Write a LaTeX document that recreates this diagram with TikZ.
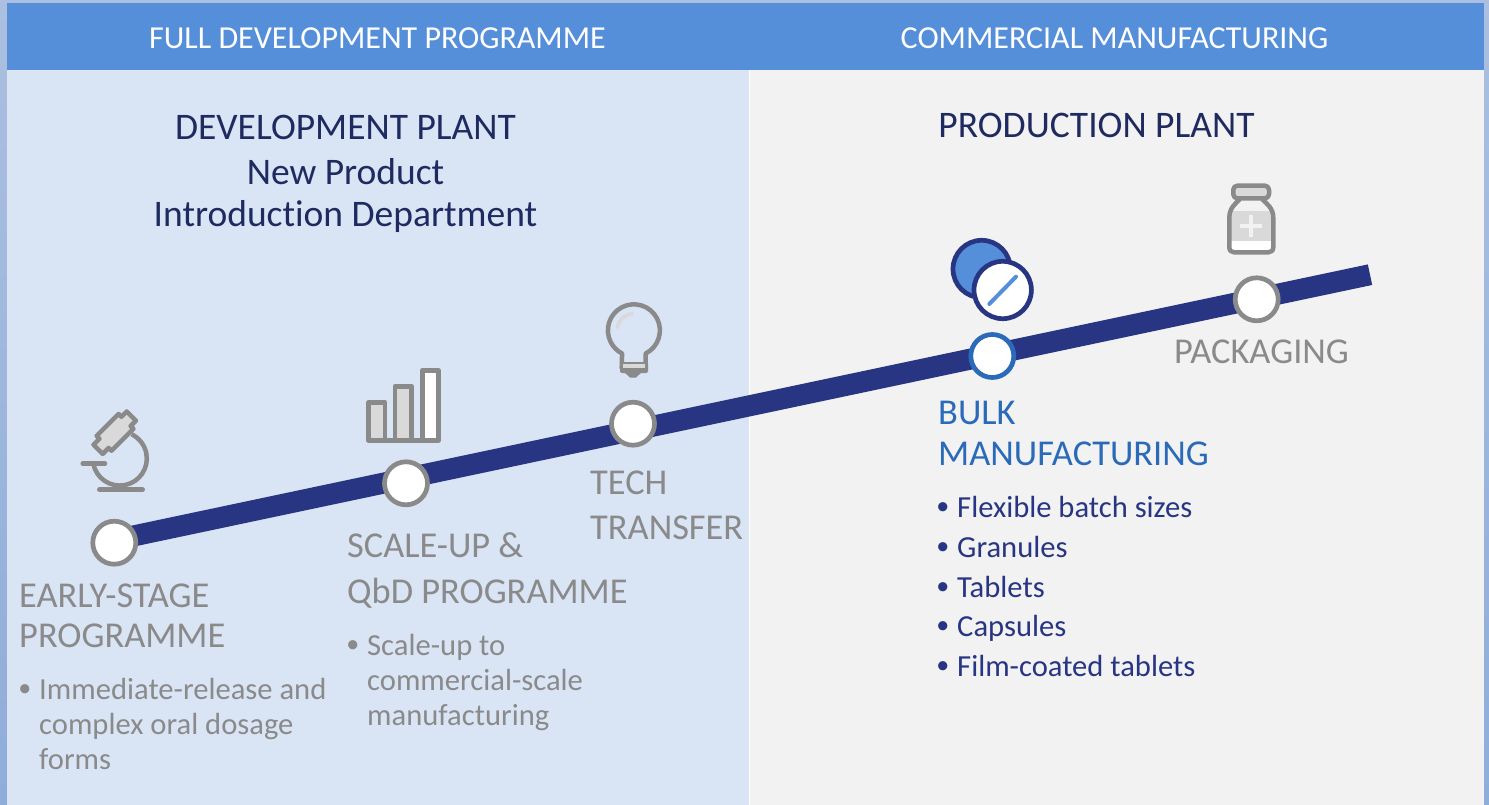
\documentclass[tikz,border=0pt]{standalone}
\usepackage{fontspec}
\setmainfont[Ligatures=CommonOff]{Carlito}
\definecolor{hdr}{HTML}{558ED9}
\definecolor{panelL}{HTML}{D9E4F5}
\definecolor{panelR}{HTML}{F2F2F2}
\definecolor{edgeT}{HTML}{ABC0E0}
\definecolor{edgeB}{HTML}{8EADD9}
\definecolor{navy}{HTML}{283583}
\definecolor{ink}{HTML}{1F2A60}
\definecolor{gry}{HTML}{8A8A8A}
\definecolor{lgry}{HTML}{D9D9D9}
\definecolor{bulk}{HTML}{2A6AB8}
\pgfdeclarelayer{under}
\pgfsetlayers{under,main}
\tikzset{
  hdrtext/.style={text=white,inner sep=0pt,anchor=base,font=\fontsize{32}{38}\selectfont},
  heading/.style={text=ink,inner sep=0pt,align=center,font=\fontsize{37.5}{44}\selectfont},
  stagegray/.style={text=gry,inner sep=0pt,anchor=north west,align=left,font=\fontsize{36.4}{45}\selectfont},
  listgray/.style={text=gry,inner sep=0pt,anchor=north west,align=left,font=\fontsize{30.6}{35}\selectfont},
  listnavy/.style={text=navy,inner sep=0pt,anchor=north west,align=left,font=\fontsize{30.6}{39.8}\selectfont},
  stop/.style={circle,draw=gry,fill=white,line width=4.7pt,minimum size=43pt,inner sep=0pt},
  icon/.style={draw=gry,line width=4.5pt,line join=round},
}
\newcommand{\blt}{\llap{\raisebox{3pt}{\fontsize{26}{26}\selectfont •}\hspace{8pt}}}
\begin{document}
\begin{tikzpicture}[x=1pt,y=-1pt]
\useasboundingbox (0,0) rectangle (1489,805);
\begin{pgfonlayer}{under}
  \shade[top color=edgeT,bottom color=edgeB] (0,0) rectangle (1489,805);
  \fill[panelL] (7,70) rectangle (749,805);
  \fill[panelR] (750,70) rectangle (1484,805);
  \fill[white] (749,70) rectangle (750,805);
  \fill[hdr] (7,3) rectangle (1484,70);
\end{pgfonlayer}

% header
\node[hdrtext] (h1) at (377.5,49) {FULL DEVELOPMENT PROGRAMME};
\node[hdrtext] (h2) at (1114.5,49) {COMMERCIAL MANUFACTURING};
\node[heading,anchor=base] (t1) at (345.5,140) {DEVELOPMENT PLANT};
\node[heading,anchor=base] (t2) at (345.5,185) {New Product};
\node[heading,anchor=base] (t3) at (345.5,227) {Introduction Department};
\node[heading,anchor=base] (t4) at (1096.5,138) {PRODUCTION PLANT};

% stops
\node[stop] (n1) at (114.3,542.7) {};
\node[stop] (n2) at (406,483.3) {};
\node[stop] (n3) at (633,423.7) {};
\node[stop,draw=bulk] (n4) at (992.3,356) {};
\node[stop] (n5) at (1256.7,299.3) {};
\coordinate (lineEnd) at (1370,274.7);
\begin{pgfonlayer}{under}
  \draw[navy,line width=21pt] ([yshift=2.7pt]n1.center) -- (lineEnd);
\end{pgfonlayer}

% stage labels
\node[stagegray,font=\fontsize{36.4}{40}\selectfont] (s1) at (19,584) {EARLY-STAGE\\PROGRAMME};
\node[listgray] (l1) at (39,678) {\blt Immediate-release and\\complex oral dosage\\forms};
\node[stagegray,font=\fontsize{36.4}{46}\selectfont] (s2) at (347,532) {SCALE-UP \&\\QbD PROGRAMME};
\node[listgray] (l2) at (367,634) {\blt Scale-up to\\commercial-scale\\manufacturing};
\node[stagegray] (s3) at (590,471) {TECH\\TRANSFER};
\node[stagegray,text=bulk,font=\fontsize{36.4}{41}\selectfont] (s4) at (938,401) {BULK\\MANUFACTURING};
\node[listnavy] (l4) at (957,496) {\blt Flexible batch sizes\\\blt Granules\\\blt Tablets\\\blt Capsules\\\blt Film-coated tablets};
\node[stagegray] (s5) at (1174,340) {PACKAGING};

% microscope
\draw[gry,line width=4.5pt,line cap=round] (99.3,489.7) -- (142.7,489.7);
\draw[gry,line width=4.5pt,line cap=round] (82.7,463.7) -- (105,463.7);
\draw[gry,line width=4.5pt] (93.3,463.7) arc[start angle=191,end angle=424,radius=27pt];
\begin{scope}[shift={(114.7,432.7)},rotate=45]
  \draw[icon,fill=lgry] (23.5,-6.5) -- (23.5,6.5) -- (16,6.5) -- (16,10.5) -- (-15,10.5) -- (-15,6.5) -- (-23.5,6.5) -- (-23.5,-6.5) -- (-15,-6.5) -- (-15,-10.5) -- (16,-10.5) -- (16,-6.5) -- cycle;
\end{scope}

% bars
\draw[icon,fill=lgry] (368.7,440.7) rectangle (385,402.3);
\draw[icon,fill=lgry] (395,440.7) rectangle (411.7,386.3);
\draw[icon,fill=white] (422.3,440.7) rectangle (438.3,370.3);
\draw[gry,line width=4.5pt] (368.7,440.7) -- (438.3,440.7);

% bulb
\draw[icon] (645.7,353.5) arc[start angle=-63,end angle=243,radius=26pt] -- (621.7,368) -- (645.7,368) -- cycle;
\fill[gry,rounded corners=2pt] (620,362) rectangle (648,373);
\fill[lgry] (623,364) rectangle (645,368);
\fill[gry] (624,372) -- (642,372) -- (636,377.5) -- (630,377.5) -- cycle;
\draw[lgry,line width=3.5pt,line cap=round] (617.3,327.5) arc[start angle=170,end angle=95,radius=16.7pt];

% tablets
\draw[draw=navy,fill=hdr,line width=4.7pt] (981.7,269) circle[radius=28.7pt];
\draw[draw=navy,fill=white,line width=4.7pt] (1002.7,290) circle[radius=28.7pt];
\draw[hdr,line width=4pt,line cap=round] (989.3,304) -- (1016,276.7);

% bottle
\fill[white] (1241,200) -- (1263,200) -- (1273.3,215) -- (1273.3,252) -- (1229.3,252) -- (1229.3,215) -- cycle;
\fill[panelR] (1241,200) -- (1263,200) -- (1273.3,212) -- (1229.3,212) -- cycle;
\fill[lgry] (1229.3,210.7) rectangle (1273.3,240.7);
\fill[panelR] (1249,214.7) rectangle (1253,236.7);
\fill[panelR] (1240,223.7) rectangle (1262,227.7);
\draw[icon,rounded corners=4pt,fill=lgry] (1233.3,198.3) rectangle (1269,185.7);
\draw[icon] (1240,199) .. controls (1235,204) and (1229.3,208) .. (1229.3,218) -- (1229.3,247) .. controls (1229.3,250.5) and (1231,252.3) .. (1234,252.3) -- (1268.5,252.3) .. controls (1271.5,252.3) and (1273.3,250.5) .. (1273.3,247) -- (1273.3,218) .. controls (1273.3,208) and (1267,204) .. (1262,199);
\end{tikzpicture}
\end{document}
